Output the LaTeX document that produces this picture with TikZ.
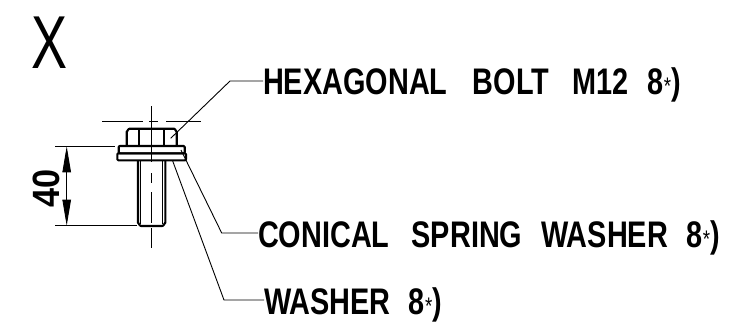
\documentclass[tikz,border=0pt]{standalone}
\usepackage{fontspec}
\setmainfont{Liberation Sans}
\usetikzlibrary{arrows.meta}
\newcommand{\st}{\hspace{1pt}{\fontsize{24}{24}\selectfont\mdseries *}}
\tikzset{
  thick part/.style={line width=2.1pt,line join=round},
  thin part/.style={line width=.9pt},
  label text/.style={inner sep=0pt,anchor=base west,font=\fontsize{37}{37}\selectfont\bfseries,xscale=.78},
  leader/.style={line width=.9pt},
  dim tip/.style={-{Triangle[length=26pt,width=8.5pt]}}
}
\begin{document}
\begin{tikzpicture}[x=1pt,y=-1pt]
\useasboundingbox (0,0) rectangle (731,327);
\node[inner sep=0pt,anchor=base,font=\fontsize{75}{75}\selectfont,xscale=.72] (title) at (50,68) {X};
% labels
\node[label text] (bolt) at (263,94.3) {HEXAGONAL\hspace{22pt} BOLT\hspace{20pt} M12\hspace{13pt} 8\st)};
\node[label text] (conical) at (258,247) {CONICAL\hspace{18pt} SPRING\hspace{14pt} WASHER\hspace{13pt} 8\st)};
\node[label text] (washer) at (264,314) {WASHER\hspace{12pt} 8\st)};
% centre lines
\draw[thin part] (151.3,106) -- (151.3,162) (151.3,173) -- (151.3,183) (151.3,192) -- (151.3,223) (151.3,228) -- (151.3,248);
\draw[thin part] (102,121.3) -- (143,121.3) (149,121.3) -- (158,121.3) (166,121.3) -- (201,121.3);
% bolt head
\draw[thick part] (126.7,146) -- (126.7,131.5) to[out=-90,in=180] (129.5,128.7) -- (173.9,128.7) to[out=0,in=-90] (176.7,131.5) -- (176.7,146);
\draw[thick part] (139,129) -- (139,146) (164,129) -- (164,146);
% flange and washer
\draw[thick part,rounded corners=1pt] (118.7,153.3) rectangle (184.7,146);
\draw[thick part,rounded corners=1pt] (117.3,160.3) rectangle (186,153.3);
% shank
\draw[thick part] (138,160.3) -- (138,223) to[out=90,in=180] (141,226) -- (162.3,226) to[out=0,in=90] (165.3,223) -- (165.3,160.3);
\draw[thin part] (140.5,160.3) -- (140.5,224) (162.8,160.3) -- (162.8,224);
% dimension
\coordinate (dimtop) at (66.7,146.3);
\coordinate (dimbot) at (66.7,225.7);
\coordinate (dimmid) at (66.7,186);
\draw[thin part] (55,146.3) -- (115,146.3) (55,225.7) -- (137,225.7);
\draw[thin part,dim tip] (dimmid) -- (dimtop);
\draw[thin part,dim tip] (dimmid) -- (dimbot);
\node[inner sep=0pt,rotate=90,font=\fontsize{38}{38}\selectfont\bfseries] (dimtext) at (46.7,188) {\scalebox{.9}[1]{40}};
% leaders
\coordinate (p1) at (170.7,138.3);
\coordinate (p2) at (181,150);
\coordinate (p3) at (172.7,161);
\draw[leader] (p1) -- (230,81) -- (bolt.west |- 0,81);
\draw[leader] (p2) -- (221.7,233) -- (conical.west |- 0,233);
\draw[leader] (p3) -- (224,300) -- (washer.west |- 0,300);
\end{tikzpicture}
\end{document}
